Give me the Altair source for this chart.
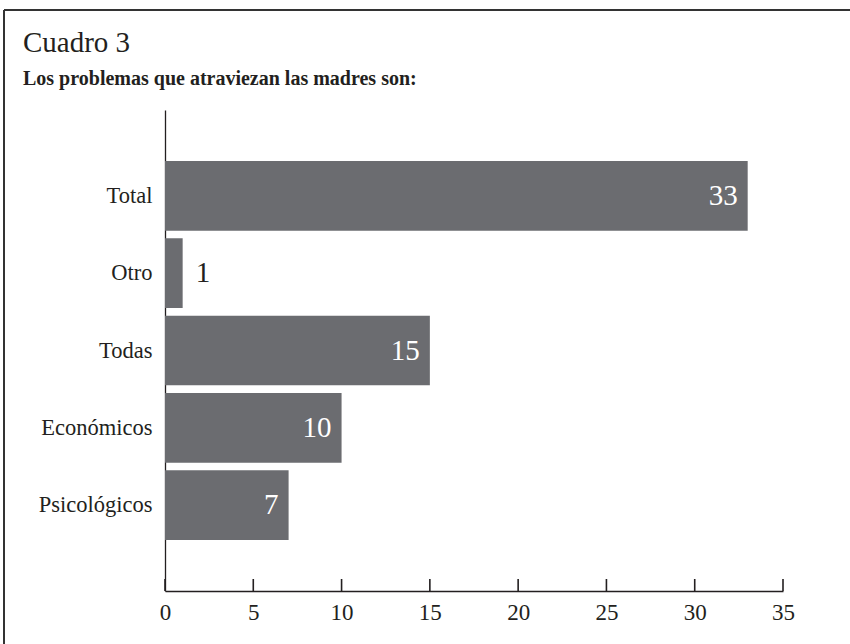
import altair as alt
import pandas as pd

categories = ["Total", "Otro", "Todas", "Económicos", "Psicológicos"]
values = [33, 1, 15, 10, 7]
tick_values = [0, 5, 10, 15, 20, 25, 30, 35]
title_text = "Cuadro 3"
subtitle_text = "Los problemas que atraviezan las madres son:"

FONT = "Liberation Serif, Times New Roman, serif"
BAR = "#6b6c70"
INK = "#231f20"
W, H = 618, 481

df = pd.DataFrame({"cat": categories, "val": values})
ticks_df = pd.DataFrame({"t": tick_values})
one = pd.DataFrame({"a": [0]})

xscale = alt.Scale(domain=[0, 35], nice=False, zero=True)
yscale = alt.Scale(domain=categories, paddingInner=0.1, paddingOuter=0.66, align=0.5)

base = alt.Chart(df)

bars = base.mark_bar(color=BAR).encode(
    x=alt.X("val:Q", scale=xscale,
            axis=alt.Axis(values=tick_values, title=None, grid=False, ticks=False,
                          domainColor=INK, domainWidth=1.6, labelFont=FONT,
                          labelFontSize=23, labelColor=INK, labelPadding=10,
                          labelFlush=False)),
    y=alt.Y("cat:N", scale=yscale, sort=categories,
            axis=alt.Axis(title=None, ticks=False, domainColor=INK, domainWidth=1.3,
                          labelFont=FONT, labelFontSize=22.5, labelColor=INK,
                          labelPadding=13)),
)

inside = base.transform_filter("datum.val >= 5").mark_text(
    align="right", baseline="middle", dx=-10, font=FONT, fontSize=29, color="white"
).encode(x=alt.X("val:Q", scale=xscale), y=alt.Y("cat:N", scale=yscale, sort=categories),
         text="val:Q")

outside = base.transform_filter("datum.val < 5").mark_text(
    align="left", baseline="middle", dx=13, font=FONT, fontSize=29, color=INK
).encode(x=alt.X("val:Q", scale=xscale), y=alt.Y("cat:N", scale=yscale, sort=categories),
         text="val:Q")

tick_marks = alt.Chart(ticks_df).mark_rule(color=INK, strokeWidth=1.6).encode(
    x=alt.X("t:Q", scale=xscale), y=alt.value(H - 12), y2=alt.value(H)
)

title_mark = alt.Chart(one).mark_text(
    align="left", baseline="alphabetic", font=FONT, fontSize=29, color=INK, text=title_text
).encode(x=alt.value(-142), y=alt.value(-58))

subtitle_mark = alt.Chart(one).mark_text(
    align="left", baseline="alphabetic", font=FONT, fontSize=20, fontWeight="bold",
    color=INK, text=subtitle_text
).encode(x=alt.value(-142), y=alt.value(-25))

border_top = alt.Chart(one).mark_rule(color="#333333", strokeWidth=2).encode(
    x=alt.value(-161), x2=alt.value(700), y=alt.value(-100)
)
border_left = alt.Chart(one).mark_rule(color="#333333", strokeWidth=2).encode(
    x=alt.value(-161), y=alt.value(-100), y2=alt.value(560)
)

chart = alt.layer(
    bars, inside, outside, tick_marks, title_mark, subtitle_mark, border_top, border_left
).properties(
    width=W, height=H,
    autosize=alt.AutoSizeParams(type="none"),
    padding={"left": 165, "top": 110, "right": 67, "bottom": 53},
    background="white",
).configure_view(stroke=None)

chart.save("out.html", embed_options={"renderer": "svg", "actions": False})
